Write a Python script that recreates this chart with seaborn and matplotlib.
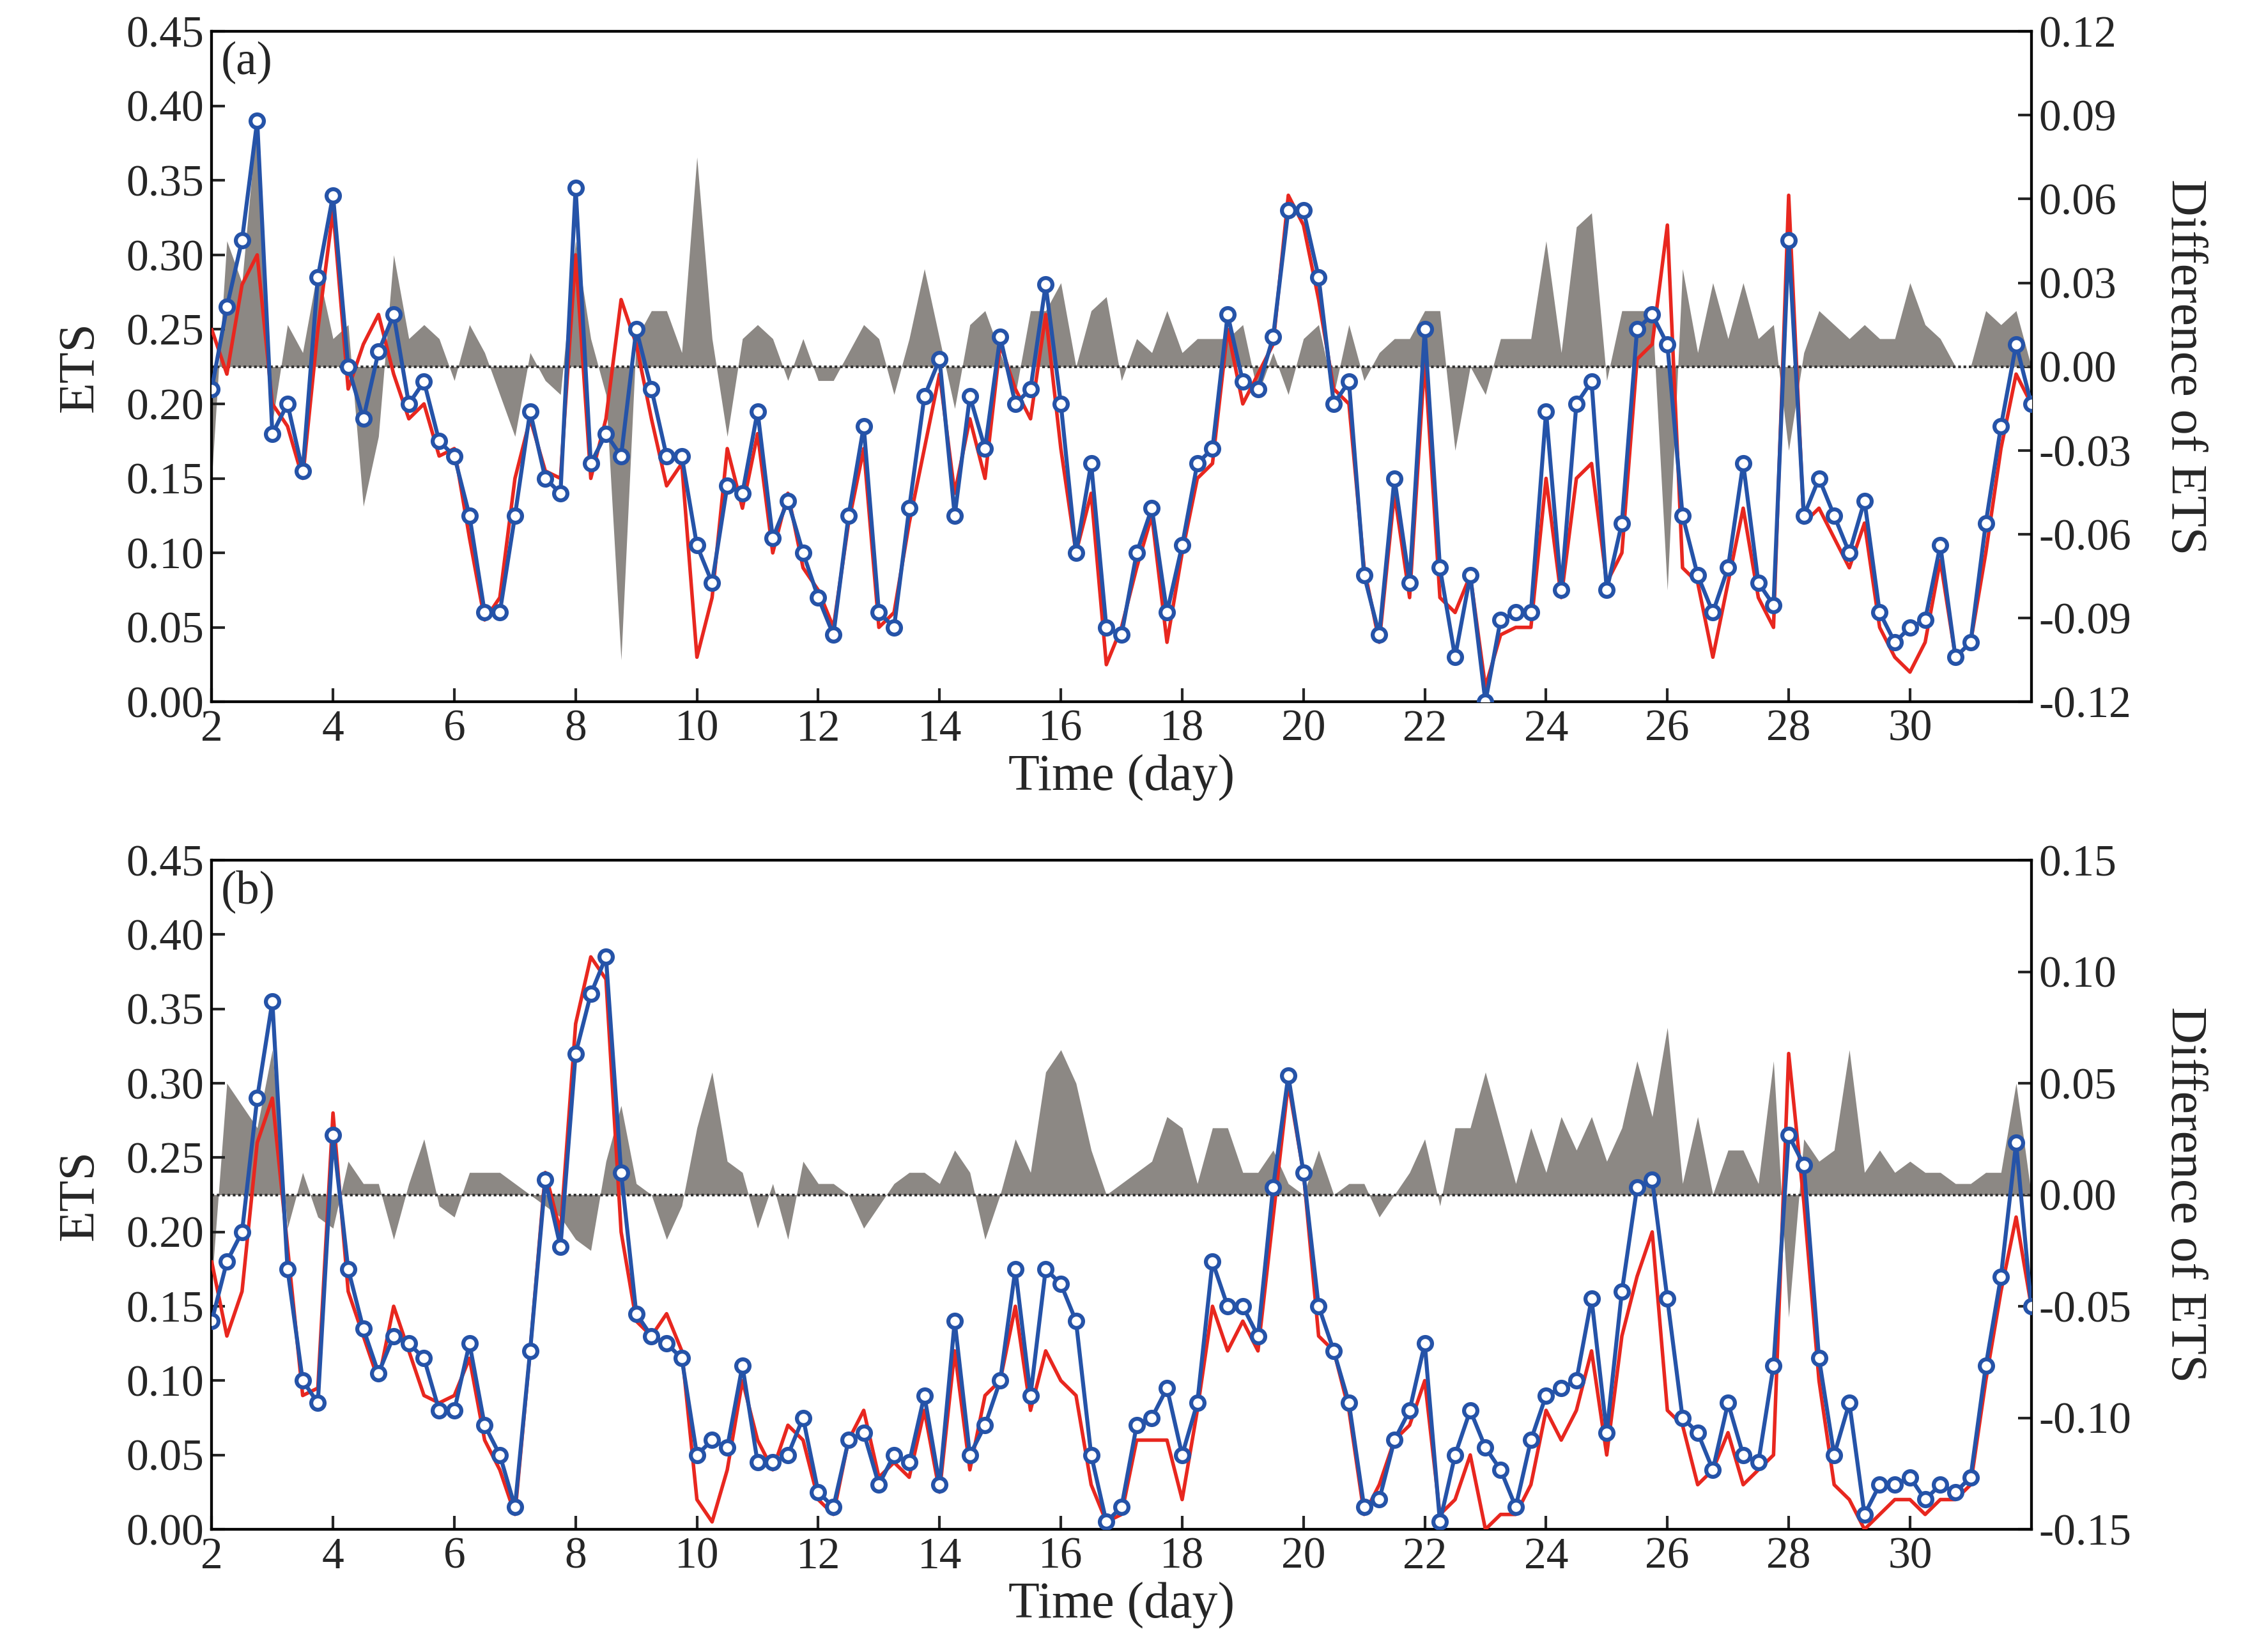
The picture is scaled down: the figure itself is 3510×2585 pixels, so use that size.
import numpy as np
import pandas as pd
import matplotlib
matplotlib.use("Agg")
import matplotlib.pyplot as plt
import seaborn as sns

sns.set_style("ticks")
plt.rcParams['font.family'] = ['Liberation Serif', 'DejaVu Serif']

time = [2 + i * 0.25 for i in range(121)]

blue_a = [0.21, 0.265, 0.31, 0.39, 0.18, 0.2, 0.155, 0.285, 0.34, 0.225, 0.19, 0.235,
          0.26, 0.2, 0.215, 0.175, 0.165, 0.125, 0.06, 0.06, 0.125, 0.195, 0.15, 0.14,
          0.345, 0.16, 0.18, 0.165, 0.25, 0.21, 0.165, 0.165, 0.105, 0.08, 0.145, 0.14,
          0.195, 0.11, 0.135, 0.1, 0.07, 0.045, 0.125, 0.185, 0.06, 0.05, 0.13, 0.205,
          0.23, 0.125, 0.205, 0.17, 0.245, 0.2, 0.21, 0.28, 0.2, 0.1, 0.16, 0.05,
          0.045, 0.1, 0.13, 0.06, 0.105, 0.16, 0.17, 0.26, 0.215, 0.21, 0.245, 0.33,
          0.33, 0.285, 0.2, 0.215, 0.085, 0.045, 0.15, 0.08, 0.25, 0.09, 0.03, 0.085,
          0.0, 0.055, 0.06, 0.06, 0.195, 0.075, 0.2, 0.215, 0.075, 0.12, 0.25, 0.26,
          0.24, 0.125, 0.085, 0.06, 0.09, 0.16, 0.08, 0.065, 0.31, 0.125, 0.15, 0.125,
          0.1, 0.135, 0.06, 0.04, 0.05, 0.055, 0.105, 0.03, 0.04, 0.12, 0.185, 0.24, 0.2]
red_a = [0.25, 0.22, 0.28, 0.30, 0.2, 0.185, 0.15, 0.25, 0.33, 0.21, 0.24, 0.26,
         0.22, 0.19, 0.2, 0.165, 0.17, 0.11, 0.055, 0.07, 0.15, 0.19, 0.155, 0.15,
         0.3, 0.15, 0.19, 0.27, 0.24, 0.19, 0.145, 0.16, 0.03, 0.07, 0.17, 0.13,
         0.18, 0.1, 0.14, 0.09, 0.075, 0.05, 0.12, 0.17, 0.05, 0.06, 0.12, 0.17,
         0.22, 0.14, 0.19, 0.15, 0.24, 0.21, 0.19, 0.26, 0.17, 0.1, 0.14, 0.025,
         0.05, 0.09, 0.125, 0.04, 0.1, 0.15, 0.16, 0.25, 0.2, 0.22, 0.24, 0.34,
         0.32, 0.27, 0.21, 0.2, 0.09, 0.04, 0.14, 0.07, 0.23, 0.07, 0.06, 0.085,
         0.01, 0.045, 0.05, 0.05, 0.15, 0.07, 0.15, 0.16, 0.08, 0.1, 0.23, 0.24,
         0.32, 0.09, 0.08, 0.03, 0.08, 0.13, 0.07, 0.05, 0.34, 0.12, 0.13, 0.11,
         0.09, 0.12, 0.05, 0.03, 0.02, 0.04, 0.095, 0.03, 0.04, 0.1, 0.17, 0.22, 0.2]
blue_b = [0.14, 0.18, 0.2, 0.29, 0.355, 0.175, 0.1, 0.085, 0.265, 0.175, 0.135, 0.105,
          0.13, 0.125, 0.115, 0.08, 0.08, 0.125, 0.07, 0.05, 0.015, 0.12, 0.235, 0.19,
          0.32, 0.36, 0.385, 0.24, 0.145, 0.13, 0.125, 0.115, 0.05, 0.06, 0.055, 0.11,
          0.045, 0.045, 0.05, 0.075, 0.025, 0.015, 0.06, 0.065, 0.03, 0.05, 0.045, 0.09,
          0.03, 0.14, 0.05, 0.07, 0.1, 0.175, 0.09, 0.175, 0.165, 0.14, 0.05, 0.005,
          0.015, 0.07, 0.075, 0.095, 0.05, 0.085, 0.18, 0.15, 0.15, 0.13, 0.23, 0.305,
          0.24, 0.15, 0.12, 0.085, 0.015, 0.02, 0.06, 0.08, 0.125, 0.005, 0.05, 0.08,
          0.055, 0.04, 0.015, 0.06, 0.09, 0.095, 0.1, 0.155, 0.065, 0.16, 0.23, 0.235,
          0.155, 0.075, 0.065, 0.04, 0.085, 0.05, 0.045, 0.11, 0.265, 0.245, 0.115, 0.05,
          0.085, 0.01, 0.03, 0.03, 0.035, 0.02, 0.03, 0.025, 0.035, 0.11, 0.17, 0.26, 0.15]
red_b = [0.18, 0.13, 0.16, 0.26, 0.29, 0.19, 0.09, 0.095, 0.28, 0.16, 0.13, 0.1,
         0.15, 0.12, 0.09, 0.085, 0.09, 0.115, 0.06, 0.04, 0.01, 0.12, 0.24, 0.2,
         0.34, 0.385, 0.37, 0.2, 0.14, 0.13, 0.145, 0.12, 0.02, 0.005, 0.04, 0.1,
         0.06, 0.04, 0.07, 0.06, 0.02, 0.01, 0.06, 0.08, 0.035, 0.045, 0.035, 0.08,
         0.025, 0.12, 0.04, 0.09, 0.1, 0.15, 0.08, 0.12, 0.1, 0.09, 0.03, 0.005,
         0.01, 0.06, 0.06, 0.06, 0.02, 0.08, 0.15, 0.12, 0.14, 0.12, 0.21, 0.3,
         0.24, 0.13, 0.12, 0.08, 0.01, 0.03, 0.06, 0.07, 0.1, 0.01, 0.02, 0.05,
         0.0, 0.01, 0.01, 0.03, 0.08, 0.06, 0.08, 0.12, 0.05, 0.13, 0.17, 0.2,
         0.08, 0.07, 0.03, 0.04, 0.065, 0.03, 0.04, 0.05, 0.32, 0.22, 0.1, 0.03,
         0.02, 0.0, 0.01, 0.02, 0.02, 0.01, 0.02, 0.02, 0.03, 0.1, 0.16, 0.21, 0.15]

panels = [
    ("(a)", blue_a, red_a, 0.12, np.arange(-0.12, 0.1201, 0.03)),
    ("(b)", blue_b, red_b, 0.15, np.arange(-0.15, 0.1501, 0.05)),
]

fig = plt.figure(figsize=(14.04, 10.34), dpi=250)
rects = [[148/1568, 1-492/1158, (1420-148)/1568, (492-22)/1158],
         [148/1568, 1-1072/1158, (1420-148)/1568, (1072-603)/1158]]

for rect, (lab, b, r, lim, rticks) in zip(rects, panels):
    ax = fig.add_axes(rect)
    ax2 = ax.twinx()
    diff = np.array(b) - np.array(r)
    ax2.fill_between(time, 0, diff, color="#8c8884", lw=0, zorder=1)
    ax2.axhline(0, color="#333333", ls=(0, (1, 1)), lw=1.2, zorder=2)
    ax2.set_ylim(-lim, lim)
    ax2.set_yticks(rticks)
    ax2.set_yticklabels(["%.2f" % v if abs(v) > 1e-9 else "0.00" for v in rticks])
    ax2.set_ylabel("Difference of ETS", rotation=270, labelpad=34, fontsize=23)
    ax.set_zorder(ax2.get_zorder() + 1)
    ax.patch.set_visible(False)
    df = pd.DataFrame({"t": time, "blue": b, "red": r})
    sns.lineplot(data=df, x="t", y="red", ax=ax, color="#e8271f", lw=1.6, zorder=3)
    sns.lineplot(data=df, x="t", y="blue", ax=ax, color="#2553a8", lw=1.8, zorder=4,
                 marker="o", markersize=6, markerfacecolor="white",
                 markeredgecolor="#2553a8", markeredgewidth=1.8)
    ax.set_xlim(2, 32)
    ax.set_ylim(0, 0.45)
    ax.set_yticks(np.arange(0, 0.451, 0.05))
    ax.set_yticklabels(["%.2f" % v for v in np.arange(0, 0.451, 0.05)])
    ax.set_xticks(range(2, 31, 2))
    ax.set_ylabel("ETS", fontsize=23, labelpad=10)
    ax.set_xlabel("Time (day)", fontsize=23, labelpad=2)
    ax.text(0.005, 0.985, lab, transform=ax.transAxes, ha="left", va="top", fontsize=21)
    for a in (ax, ax2):
        a.tick_params(labelsize=20, direction="in", length=6, width=1.2)
        for s in a.spines.values():
            s.set_linewidth(1.2)
            s.set_color("black")

fig.savefig("out.png", dpi=250)
